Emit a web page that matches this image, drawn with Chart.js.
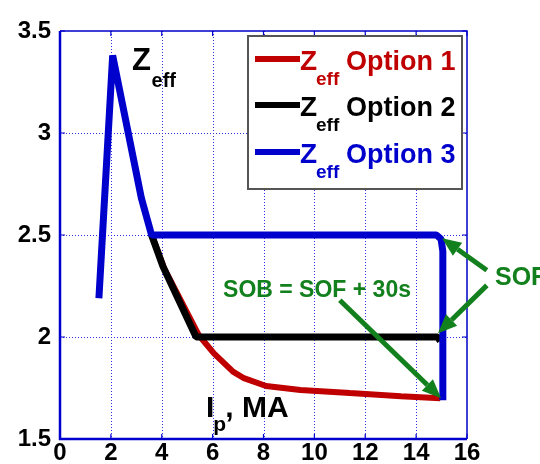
<!DOCTYPE html>
<html><head><meta charset="utf-8">
<style>html,body{margin:0;padding:0;background:#fff;}#wrap{width:540px;height:464px;}</style>
<script src="https://cdn.jsdelivr.net/npm/chart.js@4/dist/chart.umd.min.js"></script>
</head><body><div id="wrap"><canvas id="c" width="540" height="464"></canvas></div>
<script>
// ---- data ----
const opt1X = [3.6, 4.1, 5.45, 6.05, 6.8, 7.2, 8.1, 9.45, 11.4, 13.4, 14.95];
const opt1Y = [2.5, 2.335, 2.01, 1.92, 1.83, 1.80, 1.76, 1.74, 1.725, 1.71, 1.70];
const opt2X = [3.6, 4.05, 5.35, 14.85, 14.95];
const opt2Y = [2.5, 2.345, 2.0, 2.0, 1.98];
const opt3X = [1.53, 2.07, 3.2, 3.6, 14.8, 14.98, 15.05, 15.05];
const opt3Y = [2.19, 3.38, 2.68, 2.5, 2.5, 2.48, 2.42, 1.69];
const seriesNames = ['Option 1', 'Option 2', 'Option 3'];
const xTicks = [0, 2, 4, 6, 8, 10, 12, 14, 16];
const yTicks = [1.5, 2, 2.5, 3, 3.5];
const annoText = { sob: 'SOB = SOF + 30s', sof: 'SOF', z: 'Z', sub: 'eff', ip: 'I', ipSub: 'p', ipRest: ', MA' };

const RED = '#c00000', BLACK = '#000000', BLUE = '#0000cc', GREEN = '#12801c';
const FONT = "'Liberation Sans', Arial, Helvetica, sans-serif";
const pts = (xs, ys) => xs.map((x, i) => ({ x: x, y: ys[i] }));

const gridPlugin = {
  id: 'gridPlugin',
  beforeDatasetsDraw(chart) {
    const { ctx, chartArea: a, scales: { x, y } } = chart;
    ctx.save();
    ctx.strokeStyle = '#3030e8';
    ctx.lineWidth = 1;
    ctx.setLineDash([1, 2]);
    ctx.beginPath();
    xTicks.slice(1, -1).forEach(v => { const p = Math.round(x.getPixelForValue(v)) + 0.5; ctx.moveTo(p, a.top); ctx.lineTo(p, a.bottom); });
    yTicks.slice(1, -1).forEach(v => { const p = Math.round(y.getPixelForValue(v)) + 0.5; ctx.moveTo(a.left, p); ctx.lineTo(a.right, p); });
    ctx.stroke();
    ctx.restore();
  }
};

const overlay = {
  id: 'overlay',
  afterDatasetsDraw(chart) {
    const { ctx, chartArea: a, scales: { x, y } } = chart;
    const px = v => x.getPixelForValue(v), py = v => y.getPixelForValue(v);
    ctx.save();
    // frame
    ctx.strokeStyle = BLUE;
    ctx.lineWidth = 1.5;
    ctx.beginPath();
    ctx.moveTo(a.left, a.top); ctx.lineTo(a.right, a.top); ctx.lineTo(a.right, a.bottom);
    ctx.stroke();
    ctx.lineWidth = 2.5;
    ctx.beginPath();
    ctx.moveTo(a.left, a.top); ctx.lineTo(a.left, a.bottom); ctx.lineTo(a.right, a.bottom);
    ctx.stroke();
    // inward tick marks
    ctx.lineWidth = 1.2;
    ctx.beginPath();
    xTicks.forEach(v => { const p = px(v); ctx.moveTo(p, a.bottom); ctx.lineTo(p, a.bottom - 5); ctx.moveTo(p, a.top); ctx.lineTo(p, a.top + 5); });
    yTicks.forEach(v => { const p = py(v); ctx.moveTo(a.left, p); ctx.lineTo(a.left + 5, p); ctx.moveTo(a.right, p); ctx.lineTo(a.right - 5, p); });
    ctx.stroke();

    // legend box
    const lx = 248, ly = 36, lw = 214, lh = 153;
    ctx.fillStyle = '#fff';
    ctx.fillRect(lx, ly, lw, lh);
    ctx.strokeStyle = '#555';
    ctx.lineWidth = 2;
    ctx.strokeRect(lx, ly, lw, lh);
    const rows = [59, 105, 152];
    chart.data.datasets.forEach((ds, i) => {
      const ry = rows[i];
      ctx.strokeStyle = ds.borderColor; ctx.lineWidth = 6; ctx.lineCap = 'butt';
      ctx.beginPath(); ctx.moveTo(255, ry); ctx.lineTo(300, ry); ctx.stroke();
      ctx.fillStyle = ds.borderColor;
      ctx.textBaseline = 'alphabetic'; ctx.textAlign = 'left';
      ctx.font = 'bold 28px ' + FONT; ctx.fillText(annoText.z, 300, ry + 11);
      ctx.font = 'bold 19px ' + FONT; ctx.fillText(annoText.sub, 316, ry + 26);
      ctx.font = 'bold 27px ' + FONT; ctx.fillText(ds.label, 346, ry + 11);
    });

    // Zeff label
    ctx.fillStyle = '#000';
    ctx.font = 'bold 31px ' + FONT; ctx.fillText(annoText.z, px(2.83), py(3.307));
    ctx.font = 'bold 20px ' + FONT; ctx.fillText(annoText.sub, px(3.6), py(3.225));
    // Ip, MA label
    ctx.font = 'bold 30px ' + FONT; ctx.fillText(annoText.ip, px(5.74), py(1.607));
    ctx.font = 'bold 21px ' + FONT; ctx.fillText(annoText.ipSub, px(6.02), py(1.54));
    ctx.font = 'bold 30px ' + FONT; ctx.fillText(annoText.ipRest, px(6.5), py(1.607));

    // green annotations
    ctx.fillStyle = GREEN;
    ctx.font = 'bold 23px ' + FONT; ctx.fillText(annoText.sob, px(6.41), py(2.195));
    ctx.font = 'bold 25px ' + FONT; ctx.fillText(annoText.sof, px(17.1), py(2.253));
    const arrow = (x0, y0, x1, y1) => {
      const X0 = px(x0), Y0 = py(y0), X1 = px(x1), Y1 = py(y1);
      const ang = Math.atan2(Y1 - Y0, X1 - X0), L = 19, W = 8;
      const bx = X1 - L * Math.cos(ang), by = Y1 - L * Math.sin(ang);
      ctx.strokeStyle = GREEN; ctx.lineWidth = 5; ctx.lineCap = 'butt';
      ctx.beginPath(); ctx.moveTo(X0, Y0); ctx.lineTo(bx, by); ctx.stroke();
      ctx.beginPath();
      ctx.moveTo(X1, Y1);
      ctx.lineTo(bx + W * Math.sin(ang), by - W * Math.cos(ang));
      ctx.lineTo(bx - W * Math.sin(ang), by + W * Math.cos(ang));
      ctx.closePath(); ctx.fill();
    };
    arrow(11.0, 2.18, 14.98, 1.70);
    arrow(16.78, 2.327, 15.02, 2.484);
    arrow(16.78, 2.253, 14.86, 2.018);
    ctx.restore();
  }
};

new Chart(document.getElementById('c'), {
  type: 'line',
  data: {
    datasets: [
      { label: seriesNames[0], data: pts(opt1X, opt1Y), borderColor: RED, borderWidth: 6, order: 3 },
      { label: seriesNames[1], data: pts(opt2X, opt2Y), borderColor: BLACK, borderWidth: 7, order: 2 },
      { label: seriesNames[2], data: pts(opt3X, opt3Y), borderColor: BLUE, borderWidth: 7, order: 1 }
    ]
  },
  options: {
    responsive: false,
    animation: false,
    events: [],
    layout: { padding: { top: 31, right: 73, left: 0, bottom: 0 } },
    elements: { point: { radius: 0 }, line: { tension: 0, borderJoinStyle: 'bevel', fill: false } },
    plugins: { legend: { display: false }, tooltip: { enabled: false }, title: { display: false } },
    scales: {
      x: {
        type: 'linear', min: 0, max: 16,
        afterFit: s => { s.height = 25; },
        afterBuildTicks: s => { s.ticks = xTicks.map(v => ({ value: v })); },
        ticks: { color: '#000', font: { family: FONT, size: 24, weight: 'bold' }, padding: 0, maxRotation: 0, autoSkip: false, callback: v => String(v) },
        grid: { display: false, drawTicks: false },
        border: { display: false }
      },
      y: {
        type: 'linear', min: 1.5, max: 3.5,
        afterFit: s => { s.width = 60; },
        afterBuildTicks: s => { s.ticks = yTicks.map(v => ({ value: v })); },
        ticks: { color: '#000', font: { family: FONT, size: 24, weight: 'bold' }, padding: 9, autoSkip: false, callback: v => String(v) },
        grid: { display: false, drawTicks: false },
        border: { display: false }
      }
    }
  },
  plugins: [gridPlugin, overlay]
});
</script></body></html>
